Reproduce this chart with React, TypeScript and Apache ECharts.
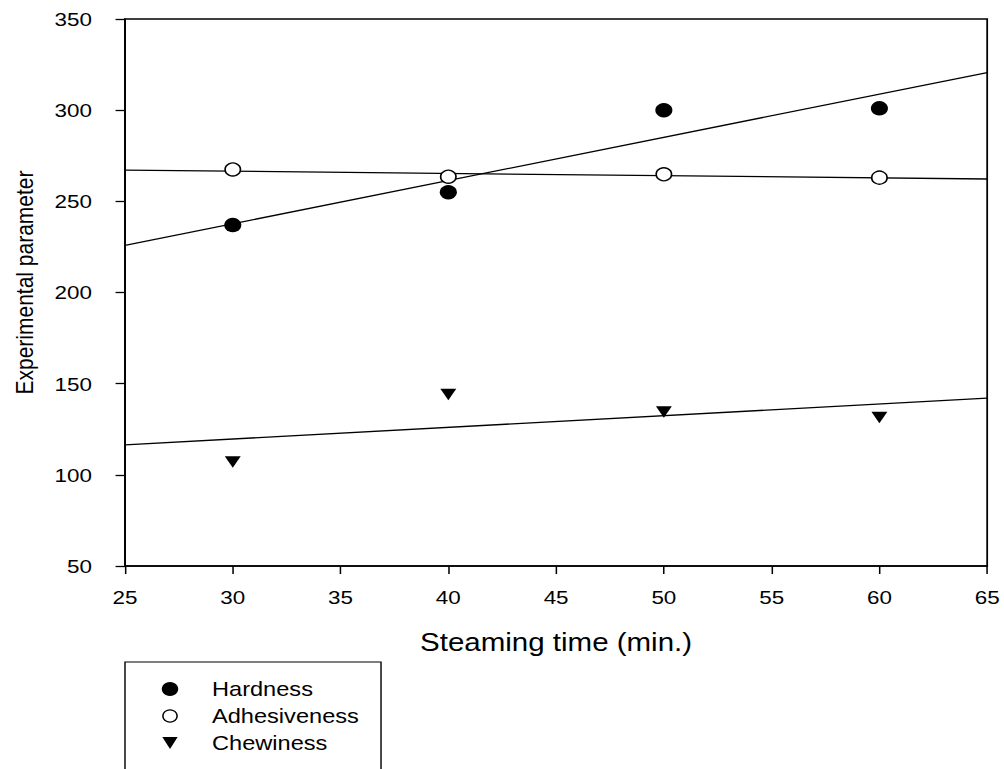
import { useEffect, useRef } from "react";
import * as echarts from "echarts";

// Horizontal stretch applied to the whole drawing (wide letterforms, oval markers).
const STRETCH = 1.18;
const PAGE_W = 1004;
const PAGE_H = 769;
const INNER_W = PAGE_W / STRETCH;

const FONT = "'Liberation Sans', Arial, Helvetica, sans-serif";

// Measured texture parameters (steaming time in minutes)
const steamingTimes = [30, 40, 50, 60];
const hardness = [237, 255, 300, 301];
const adhesiveness = [267.5, 263.5, 264.8, 263];
const chewiness = [107, 144, 134.5, 131.5];

const xMin = 25;
const xMax = 65;
const xStep = 5;
const yMin = 50;
const yMax = 350;
const yStep = 50;

const legendNames = ["Hardness", "Adhesiveness", "Chewiness"];

// Least-squares straight line through a series, evaluated over the x range.
function fitLine(xs: number[], ys: number[]): number[][] {
  const n = xs.length;
  const mx = xs.reduce((a, b) => a + b, 0) / n;
  const my = ys.reduce((a, b) => a + b, 0) / n;
  let sxy = 0;
  let sxx = 0;
  for (let i = 0; i < n; i++) {
    sxy += (xs[i] - mx) * (ys[i] - my);
    sxx += (xs[i] - mx) * (xs[i] - mx);
  }
  const slope = sxy / sxx;
  const at = (x: number) => my + slope * (x - mx);
  return [
    [xMin, at(xMin)],
    [xMax, at(xMax)],
  ];
}

const pairs = (ys: number[]) => steamingTimes.map((x, i) => [x, ys[i]]);

export default function App() {
  const ref = useRef<HTMLDivElement>(null);

  useEffect(() => {
    if (!ref.current) return;
    const chart = echarts.init(ref.current, undefined, { renderer: "svg" });

    const gridLeft = 125 / STRETCH;
    const gridRight = INNER_W - 987 / STRETCH;
    const gridTop = 19;
    const gridBottom = PAGE_H - 566;

    const fitStyle = { color: "#000", width: 1.3 };

    const legendX = gridLeft;
    const legendY = 662;
    const markerX = 170 / STRETCH - legendX;
    const textX = 212 / STRETCH - legendX;
    const rowY = [27, 54, 81];

    chart.setOption({
      animation: false,
      backgroundColor: "#fff",
      textStyle: { fontFamily: FONT, color: "#000" },
      grid: {
        left: gridLeft,
        right: gridRight,
        top: gridTop,
        bottom: gridBottom,
        show: true,
        borderColor: "#000",
        borderWidth: 1.5,
        backgroundColor: "transparent",
      },
      xAxis: {
        type: "value",
        min: xMin,
        max: xMax,
        interval: xStep,
        name: "Steaming time (min.)",
        nameLocation: "middle",
        nameGap: 64,
        nameTextStyle: { fontSize: 25, color: "#000", fontFamily: FONT },
        axisLine: { show: true, onZero: false, lineStyle: { color: "#000", width: 1.5 } },
        axisTick: { show: true, inside: false, length: 8, lineStyle: { color: "#000", width: 1.3 } },
        axisLabel: { fontSize: 19, color: "#000", margin: 22, fontFamily: FONT },
        splitLine: { show: false },
      },
      yAxis: {
        type: "value",
        min: yMin,
        max: yMax,
        interval: yStep,
        name: "Experimental parameter",
        nameLocation: "middle",
        nameGap: 75,
        nameTextStyle: {
          fontSize: 21,
          color: "#000",
          fontFamily: FONT,
          padding: [0, 0, 0, 20],
        },
        axisLine: { show: true, onZero: false, lineStyle: { color: "#000", width: 1.5 } },
        axisTick: { show: true, inside: false, length: 8, lineStyle: { color: "#000", width: 1.3 } },
        axisLabel: { fontSize: 19, color: "#000", margin: 28, fontFamily: FONT },
        splitLine: { show: false },
      },
      series: [
        {
          name: "Hardness fit",
          type: "line",
          data: fitLine(steamingTimes, hardness),
          symbol: "none",
          lineStyle: fitStyle,
          z: 1,
          silent: true,
        },
        {
          name: "Adhesiveness fit",
          type: "line",
          data: fitLine(steamingTimes, adhesiveness),
          symbol: "none",
          lineStyle: fitStyle,
          z: 1,
          silent: true,
        },
        {
          name: "Chewiness fit",
          type: "line",
          data: fitLine(steamingTimes, chewiness),
          symbol: "none",
          lineStyle: fitStyle,
          z: 1,
          silent: true,
        },
        {
          name: legendNames[0],
          type: "scatter",
          data: pairs(hardness),
          symbol: "circle",
          symbolSize: 14.5,
          itemStyle: { color: "#000", opacity: 1 },
          z: 3,
        },
        {
          name: legendNames[1],
          type: "scatter",
          data: pairs(adhesiveness),
          symbol: "circle",
          symbolSize: 13,
          itemStyle: { color: "#fff", borderColor: "#000", borderWidth: 1.4, opacity: 1 },
          z: 3,
        },
        {
          name: legendNames[2],
          type: "scatter",
          data: pairs(chewiness),
          symbol: "triangle",
          symbolSize: [13.5, 11.5],
          symbolRotate: 180,
          itemStyle: { color: "#000", opacity: 1 },
          z: 3,
        },
      ],
      graphic: [
        {
          type: "group",
          x: legendX,
          y: legendY,
          children: [
            {
              type: "rect",
              shape: { x: 0, y: 0, width: 322.9 - legendX, height: 220 },
              style: { fill: "#fff", stroke: "#000", lineWidth: 1.2 },
            },
            {
              type: "circle",
              shape: { cx: markerX, cy: rowY[0], r: 7 },
              style: { fill: "#000" },
            },
            {
              type: "circle",
              shape: { cx: markerX, cy: rowY[1], r: 6 },
              style: { fill: "#fff", stroke: "#000", lineWidth: 1.3 },
            },
            {
              type: "polygon",
              shape: {
                points: [
                  [markerX - 6.5, rowY[2] - 6],
                  [markerX + 6.5, rowY[2] - 6],
                  [markerX, rowY[2] + 6],
                ],
              },
              style: { fill: "#000" },
            },
            ...legendNames.map((name, i) => ({
              type: "text",
              x: textX,
              y: rowY[i],
              style: {
                text: name,
                fontSize: 20,
                fontFamily: FONT,
                fill: "#000",
                verticalAlign: "middle",
                align: "left",
              },
            })),
          ],
        },
      ],
    });

    return () => chart.dispose();
  }, []);

  return (
    <div
      style={{
        position: "fixed",
        left: 0,
        top: 0,
        width: PAGE_W,
        height: PAGE_H,
        overflow: "hidden",
        background: "#fff",
      }}
    >
      <div
        ref={ref}
        style={{
          width: INNER_W,
          height: PAGE_H,
          transform: `scaleX(${STRETCH})`,
          transformOrigin: "0 0",
        }}
      />
    </div>
  );
}
